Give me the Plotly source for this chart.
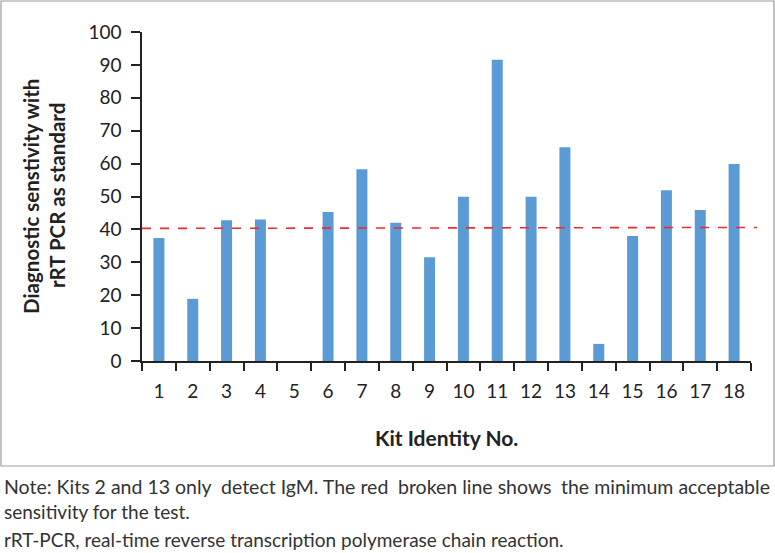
import plotly.graph_objects as go

kits = [str(i) for i in range(1, 19)]
sensitivity = [37.4, 18.9, 42.8, 43.0, 0, 45.3, 58.3, 42.0, 31.5, 49.9,
               91.6, 49.9, 65.0, 5.2, 38.0, 51.9, 45.9, 59.9]
threshold = [40.3, 40.6]  # start / end of the red broken line
y_ticks = list(range(0, 101, 10))

W, H = 775, 553
L, R, T, B = 142, 751, 32, 361  # plot area in pixels


def px(x):
    return (x - L) / (R - L)


def py(y):
    return (B - y) / (B - T)


fig = go.Figure()
fig.add_trace(go.Bar(x=kits, y=sensitivity, marker_color="#5B9BD5",
                     marker_line_width=0, showlegend=False))

fig.add_shape(type="line", xref="paper", yref="y", x0=0, x1=px(757),
              y0=threshold[0], y1=threshold[1],
              line=dict(color="#EE2A2A", width=1.6, dash="dash"))

# outer frame
fig.add_shape(type="rect", xref="paper", yref="paper",
              x0=px(1), x1=px(774), y0=py(466), y1=py(1),
              line=dict(color="#9a9a9a", width=1.2), layer="below")

font_family = "Lato, Open Sans, sans-serif"

fig.update_layout(
    width=W, height=H,
    margin=dict(l=L, r=W - R, t=T, b=H - B, pad=0),
    paper_bgcolor="white", plot_bgcolor="white",
    bargap=0.675,
    font=dict(family=font_family, color="#222222"),
    xaxis=dict(type="category", tickson="boundaries", ticks="outside",
               ticklen=8, tickwidth=1.5, tickcolor="#222",
               showline=True, linecolor="#222", linewidth=1.5,
               showgrid=False, tickfont=dict(size=19, color="#222"),
               ticklabelstandoff=12),
    yaxis=dict(range=[0, 100], tickvals=y_ticks, ticks="outside",
               ticklen=9, tickwidth=1.5, tickcolor="#222",
               showline=True, linecolor="#222", linewidth=1.5,
               showgrid=False, zeroline=False,
               tickfont=dict(size=19, color="#222"), ticklabelstandoff=6),
)

ann = []
ann.append(dict(text="<b>Kit Identity No.</b>", x=px(446), y=py(437),
                font=dict(size=21, color="#222")))
ann.append(dict(text="<b>Diagnostic senstivity with</b>", x=px(31), y=py(197),
                textangle=-90, font=dict(size=20.5, color="#222")))
ann.append(dict(text="<b>rRT PCR as standard</b>", x=px(57), y=py(196),
                textangle=-90, font=dict(size=20.5, color="#222")))
notes = [
    ("Note: Kits 2 and 13 only", 2, 486, "left", 19.5),
    ("detect IgM. The red", 218.5, 486, "left", 19.5),
    ("broken line shows", 396, 486, "left", 19.5),
    ("the minimum acceptable", 772, 486, "right", 19.5),
    ("sensitivity for the test.", 2, 511, "left", 19),
    ("rRT-PCR, real-time reverse transcription polymerase chain reaction.", 2, 539, "left", 19),
]
for t, xx, yy, anc, fs in notes:
    ann.append(dict(text=t, x=px(xx), y=py(yy), xanchor=anc,
                    font=dict(size=fs, color="#333")))
for a in ann:
    a.setdefault("xanchor", "center")
    a.update(xref="paper", yref="paper", yanchor="middle", showarrow=False)
fig.update_layout(annotations=ann)

fig.write_html("out.html", config={"displayModeBar": False},
               post_script="document.body.style.margin='0';"
                           "document.body.style.overflow='hidden';")
